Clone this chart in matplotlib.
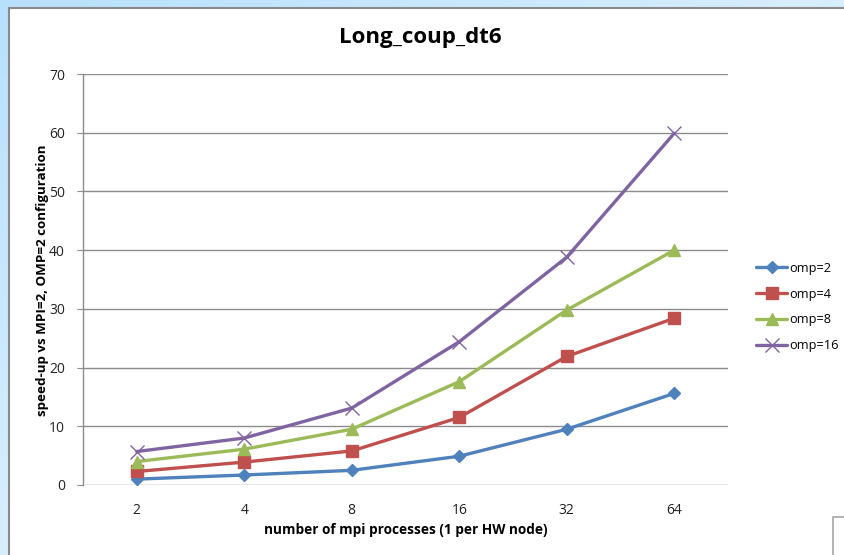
import numpy as np
import matplotlib.pyplot as plt
from matplotlib.patches import Rectangle

categories = ["2", "4", "8", "16", "32", "64"]
omp2 = [1.0, 1.7, 2.5, 4.9, 9.5, 15.6]
omp4 = [2.3, 3.9, 5.8, 11.5, 21.9, 28.4]
omp8 = [4.0, 6.1, 9.5, 17.6, 29.8, 40.0]
omp16 = [5.7, 8.0, 13.1, 24.4, 38.8, 59.9]
series_labels = ["omp=2", "omp=4", "omp=8", "omp=16"]
yticks = [0, 10, 20, 30, 40, 50, 60, 70]

W, H = 845, 555
fig = plt.figure(figsize=(W / 100, H / 100), dpi=100)

# window backdrop: light blue gradient
bg = fig.add_axes([0, 0, 1, 1], zorder=-10)
gx = np.linspace(0, 1, 200)
gy = np.linspace(0, 1, 200)
GX, GY = np.meshgrid(gx, gy)
t = np.clip(0.6 * GX + 0.6 * GY, 0, 1)
c0 = np.array([0.72, 0.88, 0.99])
c1 = np.array([0.93, 0.97, 1.0])
img = c0[None, None, :] * (1 - t[..., None]) + c1[None, None, :] * t[..., None]
bg.imshow(img, extent=[0, W, H, 0], aspect="auto")
bg.set_xlim(0, W)
bg.set_ylim(H, 0)
bg.axis("off")
# chart sheet
bg.add_patch(Rectangle((9.5, 7.5), W, H, facecolor="white", edgecolor="#8a8a8a", lw=1.5))
bg.add_patch(Rectangle((833.5, 516.5), 40, 60, facecolor="white", edgecolor="#a6a6a6", lw=1.2))

font = "Open Sans"
ax = fig.add_axes([83 / W, 1 - 485 / H, (728 - 83) / W, (485 - 74) / H])
x = np.arange(len(categories))
colors = ["#4F81BD", "#C0504D", "#9BBB59", "#8064A2"]
markers = ["D", "s", "^", "x"]
msizes = [6.5, 8.5, 8.5, 9.5]
for vals, c, m, ms, lab in zip([omp2, omp4, omp8, omp16], colors, markers, msizes, series_labels):
    kw = dict(markeredgewidth=1.0) if m == "x" else dict(markeredgecolor=c)
    ax.plot(x, vals, color=c, lw=2.4, marker=m, markersize=ms, markerfacecolor=c,
            label=lab, solid_capstyle="round", zorder=3, **kw)

ax.set_xlim(-0.5, len(categories) - 0.5)
ax.set_ylim(0, 70)
ax.set_yticks(yticks)
ax.set_yticklabels([str(v) for v in yticks], fontsize=10, family=font, color="#222222")
ax.set_xticks(x)
ax.set_xticklabels(categories, fontsize=10, family=font, color="#222222")
ax.grid(axis="y", color="#8c8c8c", lw=1.0)
ax.set_axisbelow(True)
for s in ["top", "right", "bottom"]:
    ax.spines[s].set_visible(False)
ax.spines["left"].set_color("#8c8c8c")
ax.spines["left"].set_linewidth(1.0)
ax.tick_params(axis="y", length=4, color="#8c8c8c", pad=9)
ax.tick_params(axis="x", length=0, pad=13)

fig.text(420 / W, 1 - 38 / H, "Long_coup_dt6", ha="center", va="center",
         fontsize=16, fontweight="bold", family=font)
fig.text(406 / W, 1 - 530 / H, "number of mpi processes (1 per HW node)", ha="center",
         va="center", fontsize=9.8, fontweight="bold", family=font)
fig.text(43 / W, 1 - 280 / H, "speed-up vs MPI=2, OMP=2 configuration", ha="center",
         va="center", rotation=90, fontsize=9.6, fontweight="bold", family=font)

handles, labels = ax.get_legend_handles_labels()
leg = fig.legend(handles, labels, loc="center left", bbox_to_anchor=(745 / W, 1 - 307 / H),
                 frameon=False, prop={"family": font, "size": 9.2}, handlelength=2.4,
                 labelspacing=1.0, handletextpad=0.2)

fig.savefig("out.png", dpi=100)
